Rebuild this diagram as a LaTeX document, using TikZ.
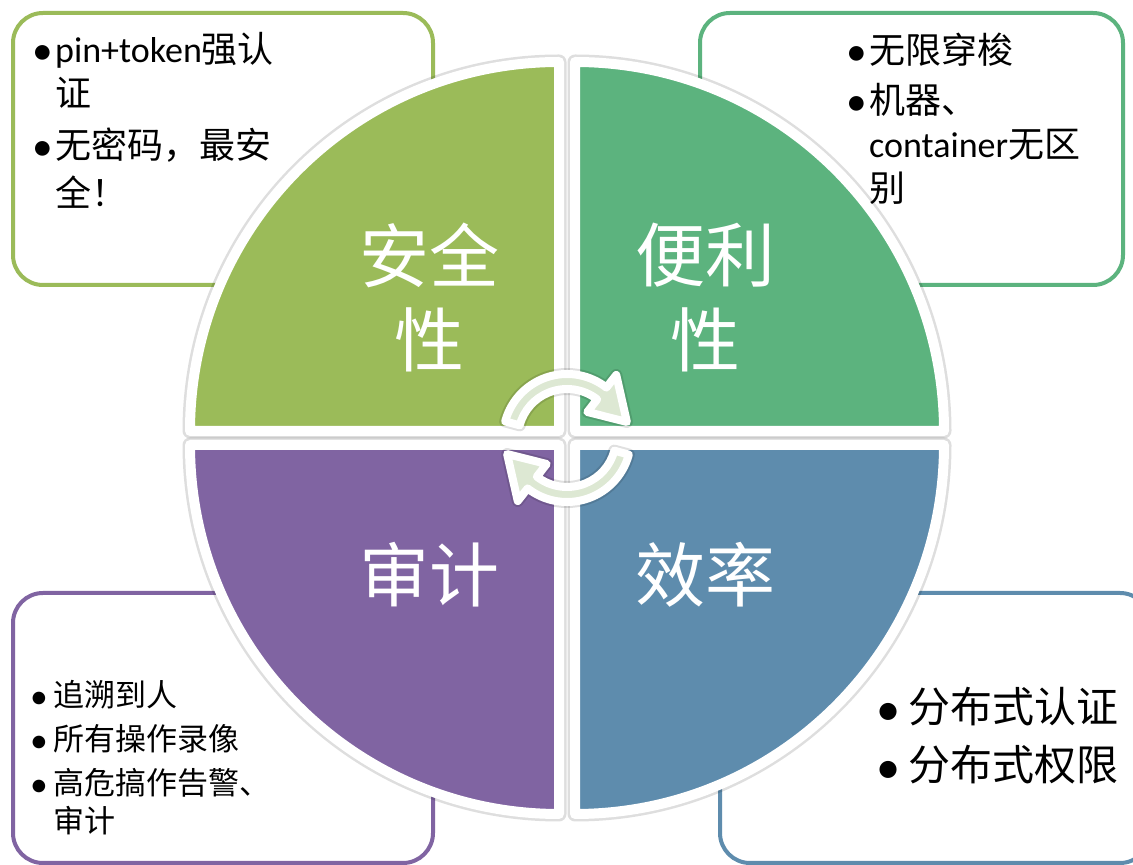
\documentclass[tikz,border=0pt]{standalone}
\usepackage{fontspec}
\setmainfont{Carlito}
\newfontfamily\cjk{Noto Sans CJK SC}
\definecolor{cA}{RGB}{155,187,89}
\definecolor{cB}{RGB}{92,179,126}
\definecolor{cC}{RGB}{128,100,162}
\definecolor{cD}{RGB}{94,140,173}
\definecolor{apale}{RGB}{221,232,211}
\newcommand\mybul[2]{\makebox[#1][l]{\hspace{3pt}\raisebox{#2}{\scalebox{1.15}{\textbullet}}}}
\tikzset{
  infobox/.style={line width=4pt, rounded corners=30pt, fill=white},
  quad/.style={fill=#1, draw=white, line width=10pt, line join=round,
    preaction={draw=black, draw opacity=.13, line width=15pt, line join=round}},
  cyclearrow/.style={fill=apale, draw=white, line width=8pt, line join=round,
    preaction={draw=black, draw opacity=.12, line width=12pt, line join=round}},
  quadtext/.style={text=white, font=\cjk\fontsize{70}{80}\selectfont, inner sep=0pt},
  txtL/.style={anchor=west, inner sep=0pt, font=\fontsize{36}{40}\selectfont},
  txtS/.style={anchor=west, inner sep=0pt, font=\fontsize{31}{36}\selectfont},
  txtB/.style={anchor=west, inner sep=0pt, font=\fontsize{42}{48}\selectfont},
}
\begin{document}
\begin{tikzpicture}[x=1pt,y=1pt]
\useasboundingbox (0,0) rectangle (1133,865);
\clip (0,0) rectangle (1133,865);
\fill[white] (0,0) rectangle (1133,865);

% text boxes
\draw[infobox, draw=cA] (13,580) rectangle (433,852);
\draw[infobox, draw=cB] (700,580) rectangle (1123,852);
\draw[infobox, draw=cC] (13,2) rectangle (433,272);
\draw[infobox, draw=cD] (720,2) rectangle (1150,272);

% quadrants
\path[quad=cA] (559,434) -- ++(-369,0) arc[start angle=180,end angle=90,radius=369] -- cycle;
\path[quad=cB] (575,434) -- ++(0,369) arc[start angle=90,end angle=0,radius=369] -- cycle;
\path[quad=cC] (559,420) -- ++(-369,0) arc[start angle=180,end angle=270,radius=369] -- cycle;
\path[quad=cD] (575,420) -- ++(369,0) arc[start angle=0,end angle=-90,radius=369] -- cycle;

% cycle arrows
\foreach \r in {0,180}{
  \begin{scope}[shift={(567,427)}, rotate=\r]
    \path[cyclearrow] (165:64) arc[start angle=165,end angle=52,radius=64]
      -- (52:80) -- (15:62) -- (52:33) -- (52:49)
      arc[start angle=52,end angle=165,radius=49] -- cycle;
  \end{scope}
}

% quadrant labels
\node[quadtext] (qa1) at (429,610) {安全};
\node[quadtext] (qa2) at (429,525) {性};
\node[quadtext] (qb1) at (705,610) {便利};
\node[quadtext] (qb2) at (705,525) {性};
\node[quadtext] (qc) at (429,290) {审计};
\node[quadtext] (qd) at (705,290) {效率};

% top-left box text
\node[txtL] (a1) at (29,815) {\mybul{26pt}{-2pt}pin+token{\cjk 强认}};
\node[txtL] (a2) at (55,772) {\cjk 证};
\node[txtL] (a3) at (29,720) {\mybul{26pt}{-2pt}{\cjk 无密码，最安}};
\node[txtL] (a4) at (55,673) {\cjk 全！};

% top-right box text
\node[txtL] (b1) at (843,815) {\mybul{26pt}{-2pt}{\cjk 无限穿梭}};
\node[txtL] (b2) at (843,765) {\mybul{26pt}{-2pt}{\cjk 机器、}};
\node[txtL] (b3) at (869,720) {container{\cjk 无区}};
\node[txtL] (b4) at (869,677) {\cjk 别};

% bottom-left box text
\node[txtS] (c1) at (27,170) {\mybul{26pt}{-2pt}{\cjk 追溯到人}};
\node[txtS] (c2) at (27,126) {\mybul{26pt}{-2pt}{\cjk 所有操作录像}};
\node[txtS] (c3) at (27,82) {\mybul{26pt}{-2pt}{\cjk 高危搞作告警、}};
\node[txtS] (c4) at (53,44) {\cjk 审计};

% bottom-right box text
\node[txtB] (d1) at (873,158) {\mybul{35pt}{-3pt}{\cjk 分布式认证}};
\node[txtB] (d2) at (873,100) {\mybul{35pt}{-3pt}{\cjk 分布式权限}};
\end{tikzpicture}
\end{document}
